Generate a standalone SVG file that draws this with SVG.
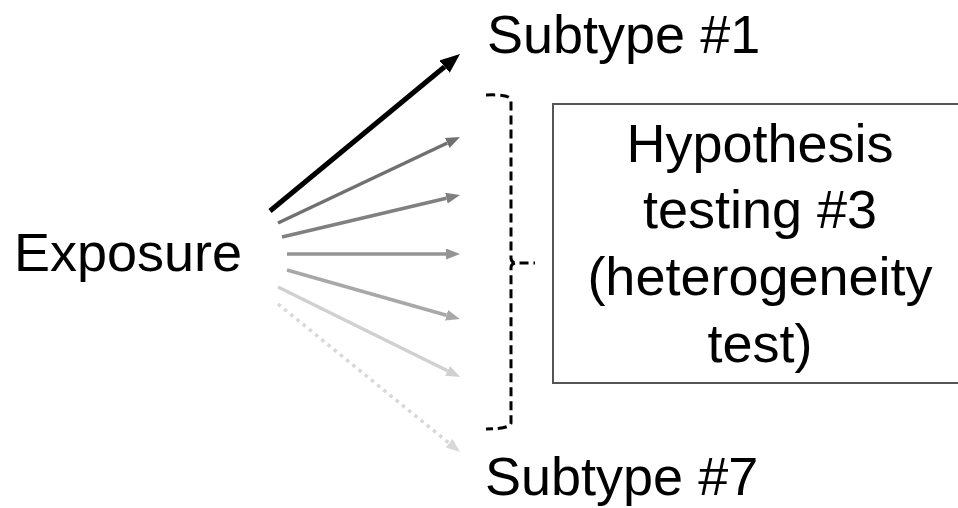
<svg xmlns="http://www.w3.org/2000/svg" width="958" height="508" viewBox="0 0 958 508">
<style>
.t{font-family:"Liberation Sans",Arial,sans-serif;font-size:54px;fill:#000}
.a{fill:none;stroke-width:3.5}
</style>
<defs>
<marker id="hk" markerUnits="userSpaceOnUse" viewBox="0 0 20 16" markerWidth="20" markerHeight="16" refX="0" refY="8" orient="auto"><path d="M0,0 L20,8 L0,16 z" fill="#000"/></marker>
<marker id="h2" markerUnits="userSpaceOnUse" viewBox="0 0 14 11" markerWidth="14" markerHeight="11" refX="0" refY="5.5" orient="auto"><path d="M0,0 L14,5.5 L0,11 z" fill="#707070"/></marker>
<marker id="h3" markerUnits="userSpaceOnUse" viewBox="0 0 14 11" markerWidth="14" markerHeight="11" refX="0" refY="5.5" orient="auto"><path d="M0,0 L14,5.5 L0,11 z" fill="#808080"/></marker>
<marker id="h4" markerUnits="userSpaceOnUse" viewBox="0 0 14 11" markerWidth="14" markerHeight="11" refX="0" refY="5.5" orient="auto"><path d="M0,0 L14,5.5 L0,11 z" fill="#949494"/></marker>
<marker id="h5" markerUnits="userSpaceOnUse" viewBox="0 0 14 11" markerWidth="14" markerHeight="11" refX="0" refY="5.5" orient="auto"><path d="M0,0 L14,5.5 L0,11 z" fill="#a8a8a8"/></marker>
<marker id="h6" markerUnits="userSpaceOnUse" viewBox="0 0 14 11" markerWidth="14" markerHeight="11" refX="0" refY="5.5" orient="auto"><path d="M0,0 L14,5.5 L0,11 z" fill="#d0d0d0"/></marker>
<marker id="h7" markerUnits="userSpaceOnUse" viewBox="0 0 14 11" markerWidth="14" markerHeight="11" refX="0" refY="5.5" orient="auto"><path d="M0,0 L14,5.5 L0,11 z" fill="#d8d8d8"/></marker>
</defs>
<rect width="958" height="508" fill="#fff"/>
<g id="exposure"><text class="t" x="14" y="271">Exposure</text></g>
<g id="subtype1"><text class="t" x="487" y="53">Subtype #1</text></g>
<g id="subtype7"><text class="t" x="485" y="495">Subtype #7</text></g>
<g id="hypothesis">
<rect x="553" y="104" width="420" height="279" fill="#fff" stroke="#555" stroke-width="2"/>
<text class="t" text-anchor="middle"><tspan x="760" y="162">Hypothesis</tspan><tspan x="760" y="228">testing #3</tspan><tspan x="760" y="295">(heterogeneity</tspan><tspan x="760" y="362">test)</tspan></text>
</g>
<g id="connectors">
<line x1="270" y1="211" x2="444.6" y2="66.7" stroke="#000" stroke-width="5" marker-end="url(#hk)"/>
<line class="a" x1="278" y1="223" x2="447.3" y2="143" stroke="#707070" marker-end="url(#h2)"/>
<line class="a" x1="282" y1="237" x2="446.4" y2="198.2" stroke="#808080" marker-end="url(#h3)"/>
<line class="a" x1="287" y1="254" x2="446" y2="254" stroke="#949494" marker-end="url(#h4)"/>
<line class="a" x1="287" y1="270" x2="446.5" y2="315.2" stroke="#a8a8a8" marker-end="url(#h5)"/>
<line class="a" x1="278" y1="287" x2="447.5" y2="370.8" stroke="#d0d0d0" marker-end="url(#h6)"/>
<line class="a" x1="278" y1="304" x2="449.1" y2="443.2" stroke="#d8d8d8" stroke-dasharray="3.5,4.5" marker-end="url(#h7)"/>
<path d="M486,95 Q510,94 511,100 L511,258 Q511,262 515,263 L535,263 M515,263 Q511,264 511,268 L511,423 Q510,429 486,429" fill="none" stroke="#000" stroke-width="3" stroke-dasharray="9,5"/>
</g>
</svg>
